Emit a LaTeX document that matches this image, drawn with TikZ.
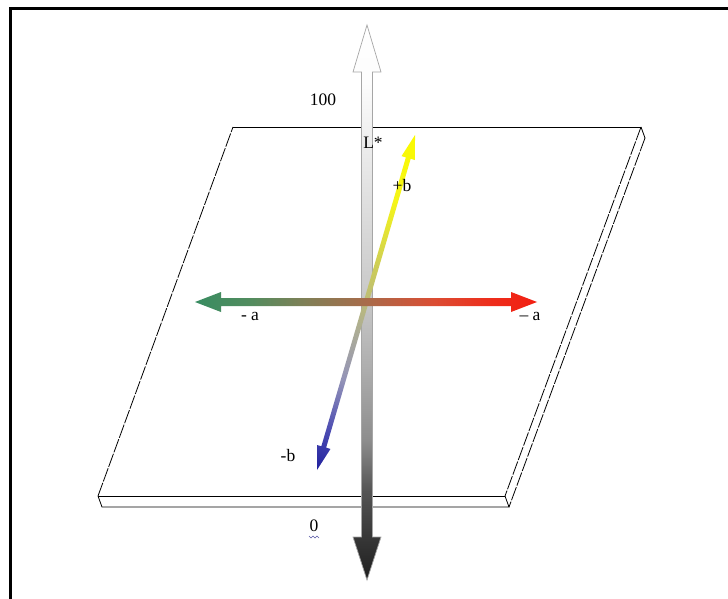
\documentclass[tikz,border=0pt]{standalone}
\usepackage{fontspec}
\setmainfont{Liberation Serif}
\pgfdeclareverticalshading{lshade}{100bp}{gray(0bp)=(0.12); gray(25bp)=(0.12); gray(29bp)=(0.22); gray(33bp)=(0.33); gray(37.5bp)=(0.55); gray(44bp)=(0.68); gray(50bp)=(0.78); gray(62.5bp)=(0.91); gray(70bp)=(0.99); gray(75bp)=(1); gray(100bp)=(1)}
\pgfdeclarehorizontalshading{ashade}{100bp}{rgb(0bp)=(0.22,0.55,0.38); rgb(25bp)=(0.22,0.55,0.38); rgb(33bp)=(0.32,0.55,0.37); rgb(41bp)=(0.50,0.50,0.34); rgb(50bp)=(0.66,0.42,0.29); rgb(60bp)=(0.86,0.30,0.20); rgb(68bp)=(0.93,0.18,0.11); rgb(75bp)=(0.95,0.12,0.07); rgb(100bp)=(0.95,0.12,0.07)}
\pgfdeclarehorizontalshading{bshade}{100bp}{rgb(0bp)=(0.13,0.13,0.62); rgb(25bp)=(0.13,0.13,0.62); rgb(31bp)=(0.3,0.3,0.70); rgb(38.5bp)=(0.58,0.58,0.72); rgb(46bp)=(0.68,0.68,0.58); rgb(55bp)=(0.80,0.80,0.35); rgb(65bp)=(0.96,0.96,0.10); rgb(75bp)=(0.98,0.98,0.0); rgb(100bp)=(0.98,0.98,0.0)}
\tikzset{
  edge/.style={line width=0.8pt},
  sideedge/.style={line width=0.8pt, dash pattern=on 14pt off 1.5pt},
  lbl/.style={inner sep=0pt, font=\fontsize{17.5}{19}\selectfont}
}
\begin{document}
\begin{tikzpicture}[x=1pt,y=-1pt]
\useasboundingbox (0,0) rectangle (728,599);
\fill[white] (0,0) rectangle (728,599);
% frame
\draw[line width=3pt] (10,599) -- (10,8.3) -- (728,8.3);
% plane (slab)
\coordinate (A) at (233,127);
\coordinate (B) at (641,127);
\coordinate (C) at (505,496);
\coordinate (D) at (98,496);
\coordinate (B2) at (645,138);
\coordinate (C2) at (509,507);
\coordinate (D2) at (102,507);
\draw[edge] (A) -- (B);
\draw[sideedge] (B) -- (C);
\draw[edge] (C) -- (D);
\draw[sideedge] (D) -- (A);
\draw[edge] (D) -- (D2) -- (C2) -- (C);
\draw[edge] (B) -- (B2);
\draw[sideedge] (B2) -- (C2);
% L* axis
\path[shade, shading=lshade, draw=gray!70, line width=0.7pt]
  (367,25) -- (381,72) -- (372.5,72) -- (372.5,537) -- (381,537) -- (367,580)
  -- (353,537) -- (361.5,537) -- (361.5,72) -- (353,72) -- cycle;
% b axis
\begin{scope}[transform canvas={shift={(317,470)},rotate=73.69}]
  \path[shade, shading=bshade] (0,0) -- (24,7) -- (24,2.5) -- (325,2.5) -- (325,7)
    -- (349,0) -- (325,-7) -- (325,-2.5) -- (24,-2.5) -- (24,-7) -- cycle;
\end{scope}
% a axis
\path[shade, shading=ashade] (195,302) -- (221,292) -- (221,298) -- (511,298)
  -- (511,292) -- (537,302) -- (511,312) -- (511,306) -- (221,306) -- (221,312) -- cycle;
% labels
\node[lbl] (t100) at (323,100) {100};
\node[lbl] (tL) at (373,143) {L*};
\node[lbl] (tpb) at (402,186) {+b};
\node[lbl] (tma) at (250,316) {- a};
\node[lbl] (tpa) at (530,316) {– a};
\node[lbl] (tmb) at (288,456) {-b};
\node[lbl] (t0) at (314,526) {0};
\draw[gray!70!blue, line width=0.5pt] (309,536) -- (311,538) -- (313,536) -- (315,538) -- (317,536) -- (319,538);
\end{tikzpicture}
\end{document}
